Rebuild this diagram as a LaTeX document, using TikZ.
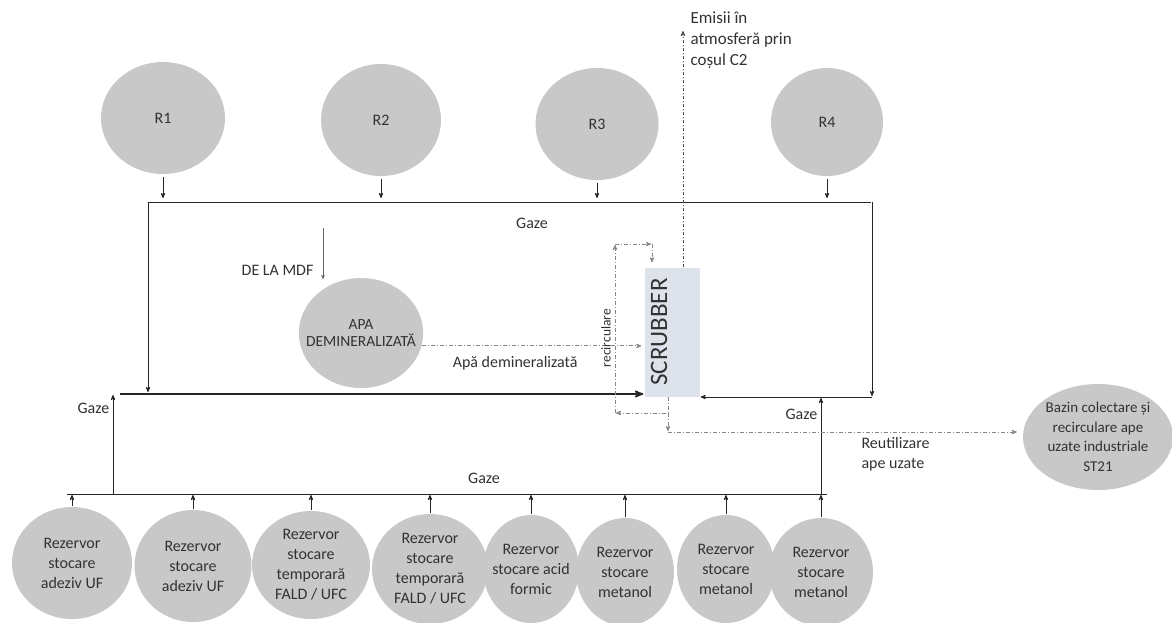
\documentclass[tikz,border=0pt]{standalone}
\usepackage{fontspec}
\setmainfont{Carlito}
\usepackage{xcolor}
\usetikzlibrary{arrows,shapes.geometric}

\definecolor{tankgray}{RGB}{200,200,200}
\definecolor{txtgray}{RGB}{50,50,50}
\definecolor{wgray}{RGB}{135,135,135}
\definecolor{scrubfill}{RGB}{222,227,235}

\begin{document}
\begin{tikzpicture}[x=1pt,y=-1pt,>=stealth',shorten >=1pt,
 font=\fontsize{16}{20}\selectfont,text=txtgray,
 tank/.style={ellipse,fill=tankgray,align=center,inner sep=-6pt},
 pipe/.style={draw=black!85,line width=0.8pt},
 wline/.style={draw=wgray,line width=0.8pt,dash pattern=on 4pt off 2pt on 1pt off 2pt}]
 \useasboundingbox (0,0) rectangle (1172,622);

 % reactoare
 \node[tank,minimum width=124,minimum height=112] (r1) at (163, 118) {R1};
 \node[tank,minimum width=120,minimum height=112] (r2) at (381, 120) {R2};
 \node[tank,minimum width=123,minimum height=112] (r3) at (597, 124) {R3};
 \node[tank,minimum width=112,minimum height=108] (r4) at (827, 122) {R4};

 \node[tank,minimum width=122,minimum height=110,inner sep=-11pt,font=\fontsize{15.5}{17}\selectfont] (apa) at (361, 333) {APA\\DEMINERALIZATĂ};
 \node[rectangle,fill=scrubfill,minimum width=55,minimum height=129,inner sep=0pt] (scrub) at (672, 332) {};
 \node[rotate=90,font=\fontsize{25}{27}\selectfont] (scrubtxt) at (659, 332) {SCRUBBER};
 \node[tank,minimum width=150,minimum height=106,font=\fontsize{15}{19.5}\selectfont] (bazin) at (1098, 437) {Bazin colectare și\\recirculare ape\\uzate industriale\\ST21};

 % rezervoare
 \node[tank,minimum width=120,minimum height=112] (c1) at (72, 563) {Rezervor\\stocare\\adeziv UF};
 \node[tank,minimum width=117,minimum height=112] (c2) at (193, 566) {Rezervor\\stocare\\adeziv UF};
 \node[tank,minimum width=118,minimum height=108] (c3) at (311, 565) {Rezervor\\stocare\\temporară\\FALD / UFC};
 \node[tank,minimum width=116,minimum height=110] (c4) at (430, 569) {Rezervor\\stocare\\temporară\\FALD / UFC};
 \node[tank,minimum width=96,minimum height=108] (c5) at (531, 569) {Rezervor\\stocare acid\\formic};
 \node[tank,minimum width=98,minimum height=108] (c6) at (625, 572) {Rezervor\\stocare\\metanol};
 \node[tank,minimum width=98,minimum height=108] (c7) at (726, 569) {Rezervor\\stocare\\metanol};
 \node[tank,minimum width=104,minimum height=108] (c8) at (821, 572) {Rezervor\\stocare\\metanol};

 \coordinate (tl) at (148, 202);
 \coordinate (tr) at (872, 202);
 \coordinate (lb) at (148, 393);
 \coordinate (rb) at (872, 397);
 \coordinate (hl) at (120, 394);
 \coordinate (busl) at (67, 494);
 \coordinate (busr) at (828, 494);
 \coordinate (gl) at (113, 494);
 \coordinate (gr) at (821, 494);
 \coordinate (mdf) at (323, 228);
 \coordinate (mdfend) at (323, 280);
 \coordinate (emis) at (683, 30);
 \coordinate (stem) at (668, 413);
 \coordinate (reu) at (668, 432);
 \coordinate (rcl) at (615, 413);
 \coordinate (rct) at (615, 244);
 \coordinate (rcr) at (652, 244);

 % gaze de la reactoare
 \draw[pipe] (tl) -- (tr);
 \path[->,shorten <=3pt,shorten >=4pt]
 (r1.south) edge[pipe] (r1.south |- tl)
 (r2.south) edge[pipe] (r2.south |- tl)
 (r3.south) edge[pipe] (r3.south |- tl)
 (r4.south) edge[pipe] (r4.south |- tl);
 \draw[pipe,->] (tl) -- (lb);
 \draw[pipe,->] (tr) -- (rb);
 \draw[pipe,->,line width=1.8pt] (hl) -- (hl -| scrub.west);
 \draw[pipe,->] (rb) -- (rb -| scrub.east);
 \node at (532, 223) {Gaze};

 % gaze de la rezervoare
 \draw[pipe] (busl) -- (busr);
 \path[->,shorten <=1pt]
 (c1.north) edge[pipe] (c1.north |- busl)
 (c2.north) edge[pipe] (c2.north |- busl)
 (c3.north) edge[pipe] (c3.north |- busl)
 (c4.north) edge[pipe] (c4.north |- busl)
 (c5.north) edge[pipe] (c5.north |- busl)
 (c6.north) edge[pipe] (c6.north |- busl)
 (c7.north) edge[pipe] (c7.north |- busl)
 (c8.north) edge[pipe] (c8.north |- busl);
 \draw[pipe,->] (gl) -- (gl |- hl) node[pos=0.86,left] {Gaze};
 \draw[pipe,->] (gr) -- (gr |- rb) node[pos=0.82,left] {Gaze};
 \node at (484, 478) {Gaze};

 % apa
 \draw[draw=black!60,line width=0.5pt,->] (mdf) -- (mdfend) node[pos=0.82,left=6pt] {DE LA MDF};
 \draw[wline,->,shorten >=3pt] (apa.-12) -- (apa.-12 -| scrub.west) node[pos=0.42,below=7pt] {Apă demineralizată};

 % recirculare
 \draw[wline,->] (scrub.south -| stem) -- (stem) -- (rcl);
 \draw[wline,->] (rcl) -- (rct);
 \draw[wline,->] (rct) -- (rcr);
 \draw[wline,->,shorten >=5pt] (rcr) -- (rcr |- scrub.north);
 \node[rotate=90,font=\fontsize{13.5}{16}\selectfont] (recirc) at (606, 338) {recirculare};

 % reutilizare
 \draw[wline,->] (stem) -- (reu);
 \draw[wline,->,shorten >=6pt] (reu) -- (reu -| bazin.west);
 \node[anchor=north west,align=left] (reutxt) at (858, 434) {Reutilizare\\ape uzate};

 % emisii
 \draw[dash pattern=on 3pt off 2pt on 1pt off 2pt,draw=black!70,line width=0.8pt,->] (scrub.north -| emis) -- (emis);
 \node[anchor=north west,align=left,font=\fontsize{17}{21}\selectfont] (emtxt) at (687, 8) {Emisii în\\atmosferă prin\\coșul C2};
\end{tikzpicture}
\end{document}
